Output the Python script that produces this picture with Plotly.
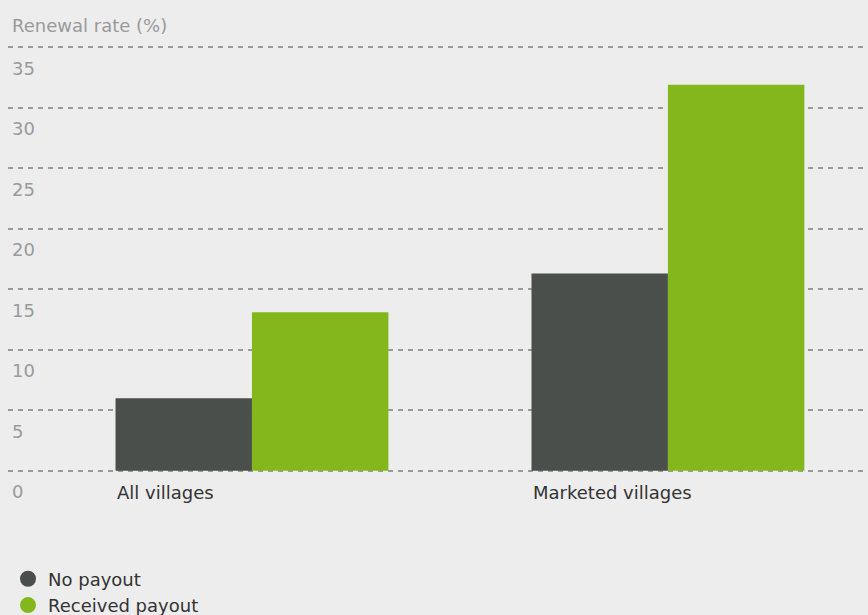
import plotly.graph_objects as go

categories = ["All villages", "Marketed villages"]
no_payout = [6.0, 16.3]
received_payout = [13.1, 31.9]
series_names = ["No payout", "Received payout"]
series_colors = ["#4A4F4B", "#84B71B"]
y_ticks = [0, 5, 10, 15, 20, 25, 30, 35]
y_title = "Renewal rate (%)"

FONT = "DejaVu Sans"
FS = 18
BG = "#EDEDED"
GRAY = "#9A9A9A"
DARK = "#333333"

fig = go.Figure()
for name, vals, col in zip(series_names, [no_payout, received_payout], series_colors):
    fig.add_trace(go.Bar(x=categories, y=vals, name=name, marker_color=col,
                         marker_line_width=0, showlegend=False))
for name, col in zip(series_names, series_colors):
    fig.add_trace(go.Scatter(x=[None], y=[None], mode="markers", name=name,
                             marker=dict(symbol="circle", size=18, color=col)))

annotations = []
for v in y_ticks:
    annotations.append(dict(xref="paper", yref="y", x=0, y=v, text=str(v),
                            xanchor="left", yanchor="middle", xshift=2, yshift=-21,
                            showarrow=False, font=dict(family=FONT, size=FS, color=GRAY)))
for c in categories:
    annotations.append(dict(xref="x", yref="y", x=c, y=0, text=c,
                            xanchor="left", yanchor="middle", xshift=-136.5, yshift=-22,
                            showarrow=False, font=dict(family=FONT, size=FS, color=DARK)))
annotations.append(dict(xref="paper", yref="paper", x=0, y=1, text=y_title,
                        xanchor="left", yanchor="middle", xshift=2, yshift=20.5,
                        showarrow=False, font=dict(family=FONT, size=FS, color=GRAY)))

fig.update_layout(
    width=868, height=615,
    margin=dict(l=8, r=0, t=46.3, b=142.8, autoexpand=False),
    paper_bgcolor=BG, plot_bgcolor=BG,
    barmode="group", bargap=0.344, bargroupgap=0,
    font=dict(family=FONT, size=FS, color=DARK),
    xaxis=dict(range=[-0.5865, 1.481], showticklabels=False, showgrid=False,
               zeroline=False, showline=False, ticks=""),
    yaxis=dict(range=[-0.1, 35.1], tickvals=y_ticks, showticklabels=False,
               showgrid=True, gridcolor=GRAY, gridwidth=1.5, griddash="5px,5px",
               zeroline=False, showline=False, ticks=""),
    legend=dict(x=0, xanchor="left", y=-0.2078, yanchor="top",
                orientation="v", tracegroupgap=0, bgcolor="rgba(0,0,0,0)",
                font=dict(family=FONT, size=FS, color=DARK), itemsizing="trace"),
    annotations=annotations,
)

fig.write_html("out.html", config={"displayModeBar": False},
               post_script="document.body.style.margin='0';")
